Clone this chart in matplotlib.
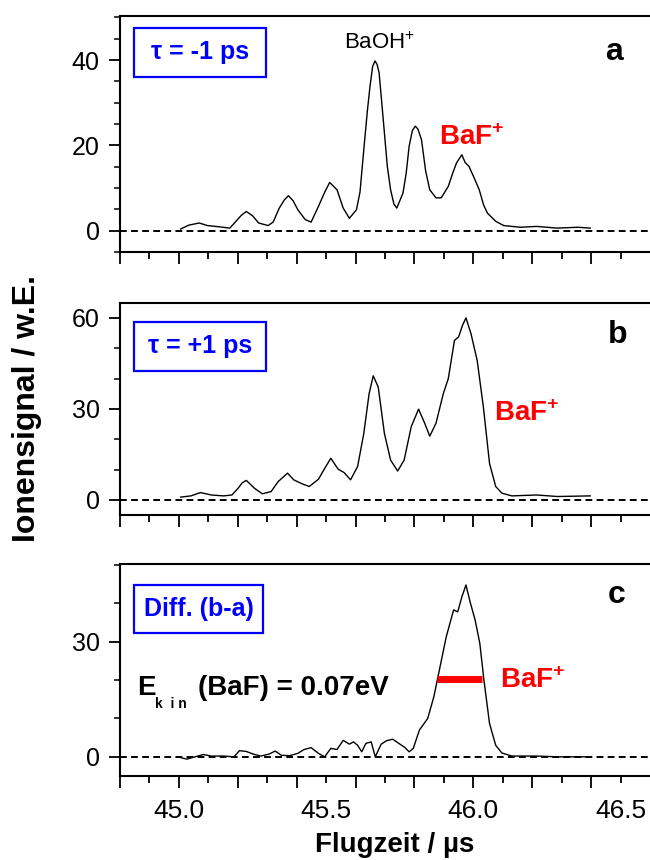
import matplotlib
matplotlib.use('Agg')
import matplotlib.pyplot as plt
from matplotlib.patches import Rectangle
from matplotlib.ticker import MultipleLocator, FixedLocator, FuncFormatter

plt.rcParams['font.family'] = ['Liberation Sans', 'DejaVu Sans']
plt.rcParams['mathtext.fontset'] = 'custom'
plt.rcParams['mathtext.rm'] = 'Liberation Sans'
plt.rcParams['mathtext.bf'] = 'Liberation Sans:bold'

# Flugzeit (us) und Ionensignal
t_a = [45.006, 45.034, 45.069, 45.097, 45.138, 45.173, 45.194, 45.212, 45.229, 45.250,
       45.271, 45.303, 45.320, 45.341, 45.358, 45.372, 45.388, 45.404, 45.429, 45.449,
       45.474, 45.495, 45.512, 45.537, 45.558, 45.579, 45.603, 45.615, 45.628, 45.640,
       45.649, 45.658, 45.666, 45.673, 45.680, 45.689, 45.698, 45.708, 45.719, 45.730,
       45.740, 45.761, 45.772, 45.782, 45.793, 45.803, 45.812, 45.824, 45.838, 45.852,
       45.873, 45.891, 45.915, 45.930, 45.943, 45.961, 45.972, 45.985, 46.002, 46.020,
       46.035, 46.048, 46.076, 46.103, 46.159, 46.215, 46.285, 46.355, 46.397]
s_a = [0.4, 1.3, 1.8, 1.2, 0.9, 0.6, 2.2, 3.6, 4.5, 3.5,
       1.8, 1.2, 2.0, 5.3, 7.2, 8.2, 7.0, 4.9, 2.6, 2.0,
       5.7, 9.0, 11.3, 9.6, 5.3, 2.9, 4.9, 9.0, 19.0, 28.0,
       33.8, 38.5, 39.8, 39.0, 37.0, 30.0, 22.9, 15.0, 9.6, 6.3,
       5.3, 8.8, 13.5, 19.8, 23.5, 24.5, 23.8, 21.3, 14.0, 9.6,
       7.7, 7.7, 10.4, 13.5, 15.9, 17.8, 16.0, 15.1, 12.5, 9.6,
       6.0, 4.1, 2.2, 1.2, 0.8, 1.0, 0.6, 0.8, 0.6]

t_b = [45.006, 45.041, 45.073, 45.110, 45.152, 45.180, 45.201, 45.215, 45.229, 45.257,
       45.283, 45.313, 45.337, 45.369, 45.390, 45.418, 45.443, 45.474, 45.496, 45.516,
       45.541, 45.561, 45.583, 45.607, 45.628, 45.646, 45.660, 45.677, 45.698, 45.719,
       45.743, 45.765, 45.789, 45.814, 45.835, 45.852, 45.873, 45.898, 45.915, 45.936,
       45.950, 45.963, 45.975, 45.992, 46.013, 46.034, 46.055, 46.076, 46.097, 46.131,
       46.215, 46.285, 46.397]
s_b = [0.9, 1.3, 2.4, 1.6, 1.3, 1.6, 3.8, 5.6, 6.4, 3.8,
       2.0, 2.7, 6.0, 8.8, 6.6, 5.3, 4.4, 6.8, 10.5, 13.7,
       10.1, 9.0, 6.6, 11.0, 21.9, 35.0, 40.9, 37.2, 21.9, 13.1,
       9.5, 13.1, 24.1, 29.9, 25.2, 21.0, 25.2, 35.0, 40.0, 52.6,
       53.7, 57.5, 60.0, 54.8, 46.0, 30.7, 12.0, 4.4, 2.2, 1.3,
       1.6, 1.1, 1.3]

t_c = [45.006, 45.027, 45.055, 45.083, 45.110, 45.152, 45.187, 45.206, 45.229, 45.253,
       45.278, 45.306, 45.327, 45.348, 45.376, 45.404, 45.425, 45.449, 45.474, 45.495,
       45.516, 45.537, 45.558, 45.579, 45.593, 45.607, 45.621, 45.635, 45.653, 45.667,
       45.687, 45.705, 45.726, 45.747, 45.768, 45.782, 45.796, 45.817, 45.845, 45.866,
       45.887, 45.908, 45.933, 45.947, 45.961, 45.975, 45.989, 46.006, 46.022, 46.036,
       46.055, 46.076, 46.097, 46.131, 46.215, 46.285, 46.397]
s_c = [-0.2, -0.6, 0.0, 0.6, 0.2, 0.2, 0.0, 1.6, 1.4, 0.7,
       0.2, 0.7, 1.5, 0.4, 0.3, 0.9, 1.9, 2.4, 0.9, 0.0,
       2.2, 1.9, 4.3, 3.3, 3.9, 3.0, 1.3, 3.5, 3.9, 0.0,
       3.3, 4.2, 4.6, 3.5, 2.4, 1.3, 2.2, 7.0, 10.0, 15.7,
       23.5, 31.3, 38.3, 37.8, 41.7, 44.8, 40.4, 35.7, 29.6, 20.0,
       8.7, 3.0, 1.0, 0.2, 0.2, 0.0, 0.0]

# Halbwertsbreite in (c)
fwhm_t = [45.877, 46.031]
fwhm_s = [20.3, 20.3]

panels = [
    (t_a, s_a, (-5, 50.4), 20, 5),
    (t_b, s_b, (-5, 65), 30, 10),
    (t_c, s_c, (-5, 50.2), 30, 10),
]
x_labels = [45.0, 45.5, 46.0, 46.5]

fig = plt.figure(figsize=(6.5, 8.6), dpi=100)


def px(x, y):
    return x / 650, 1 - y / 860


# [oben, unten] der Achsen in Pixeln
frames = [(15.7, 252), (302.7, 515), (564.3, 776)]
left = 120 / 650

axes = []
for (t, s, ylim, ymaj, ymin), (top, bot) in zip(panels, frames):
    ax = fig.add_axes([left, 1 - bot / 860, 1 - left, (bot - top) / 860])
    ax.plot(t, s, color='black', lw=1.0)
    ax.axhline(0, color='black', lw=1.4, ls=(0, (3.5, 2.2)))
    ax.set_xlim(44.8, 46.6)
    ax.set_ylim(*ylim)
    ax.spines['right'].set_visible(False)
    for sp in ['left', 'top', 'bottom']:
        ax.spines[sp].set_linewidth(1.5)
    ax.yaxis.set_major_locator(MultipleLocator(ymaj))
    ax.yaxis.set_minor_locator(MultipleLocator(ymin))
    ax.xaxis.set_major_locator(FixedLocator([44.8 + 0.2 * i for i in range(9)]))
    ax.xaxis.set_minor_locator(FixedLocator([44.9 + 0.2 * i for i in range(9)]))
    ax.tick_params(axis='y', which='major', length=8, width=1.3, pad=6.5, labelsize=18)
    ax.tick_params(axis='y', which='minor', length=4, width=1.1)
    ax.tick_params(axis='x', which='major', length=8.6, width=1.3, pad=8, labelsize=19)
    ax.tick_params(axis='x', which='minor', length=5, width=1.3, pad=11.6, labelsize=19)
    axes.append(ax)

fmt = FuncFormatter(lambda v, p: f'{v:.1f}' if any(abs(v - l) < 1e-6 for l in x_labels) else '')
for ax in axes[:2]:
    ax.xaxis.set_major_formatter(FuncFormatter(lambda v, p: ''))
    ax.xaxis.set_minor_formatter(FuncFormatter(lambda v, p: ''))
axes[2].xaxis.set_major_formatter(fmt)
axes[2].xaxis.set_minor_formatter(fmt)

axes[2].plot(fwhm_t, fwhm_s, color='#ff0000', lw=5, solid_capstyle='butt')

# blaue Kästchen
boxes = [((134, 28, 266, 77), '\u03c4 = -1 ps'),
         ((134, 322, 266, 371), '\u03c4 = +1 ps'),
         ((134, 585, 263, 633), 'Diff. (b-a)')]
for (x0, y0, x1, y1), txt in boxes:
    fx0, fy1 = px(x0, y1)
    fx1, fy0 = px(x1, y0)
    fig.patches.append(Rectangle((fx0, fy1), fx1 - fx0, fy0 - fy1, transform=fig.transFigure,
                                 fill=False, edgecolor='#0000ff', lw=1.6))
    fig.text(*px((x0 + x1) / 2, (y0 + y1) / 2), txt, color='#0000ff', fontsize=18,
             fontweight='bold', ha='center', va='center')

for (x, y), lab in zip([(614, 52), (618, 335), (617, 595)], ['a', 'b', 'c']):
    fig.text(*px(x, y), lab, fontsize=23, fontweight='bold', ha='center', va='center')

fig.text(*px(344, 49), r'BaOH$^{+}$', fontsize=16, va='baseline')
for x, y in [(439, 145), (494, 421), (500, 688)]:
    fig.text(*px(x, y), r'BaF$^{\mathbf{+}}$', fontsize=20, fontweight='bold',
             color='#ff0000', va='baseline')

# E_kin mit gesperrtem Index
fig.text(*px(137, 695), 'E', fontsize=20, fontweight='bold', va='baseline')
fig.text(*px(155, 708), 'k  i n', fontsize=10, fontweight='bold', va='baseline')
fig.text(*px(198, 695), '(BaF) = 0.07eV', fontsize=20, fontweight='bold', va='baseline')

fig.text(*px(27, 408), 'Ionensignal / w.E.', fontsize=23, fontweight='bold',
         rotation=90, ha='center', va='center')
fig.text(*px(395, 852), 'Flugzeit / \u00b5s', fontsize=20, fontweight='bold',
         ha='center', va='baseline')

fig.savefig('out.png', dpi=100)
